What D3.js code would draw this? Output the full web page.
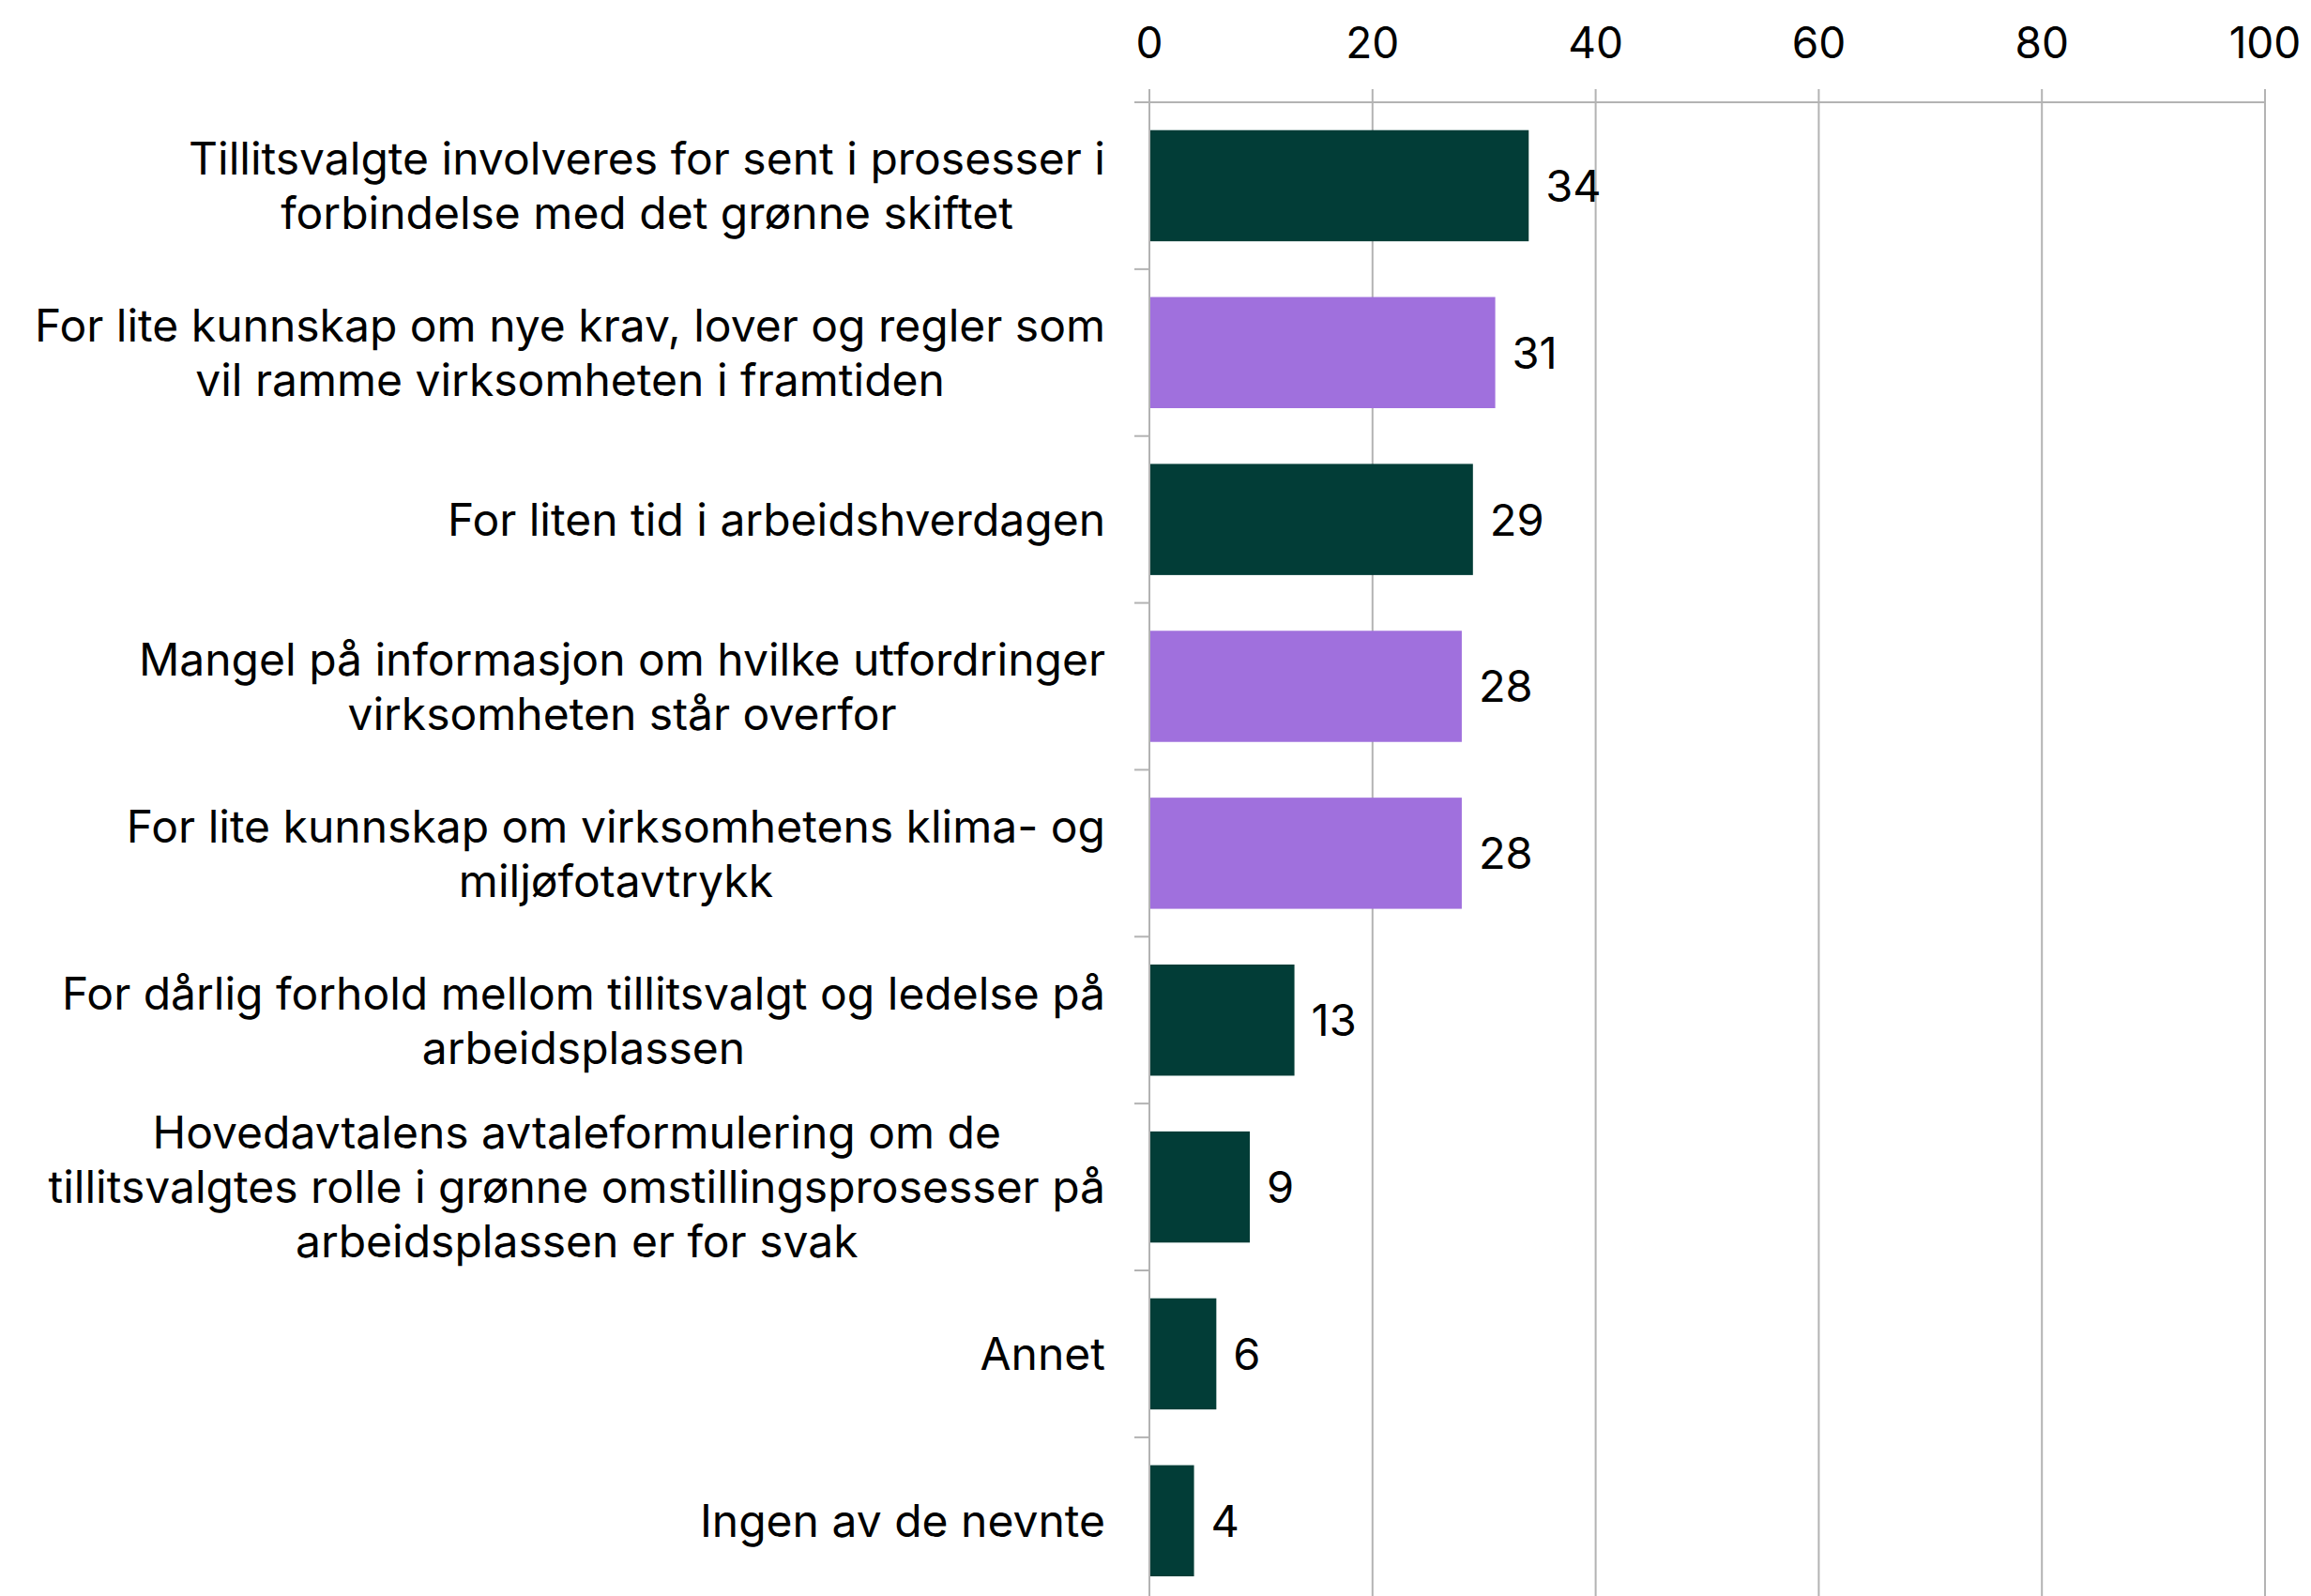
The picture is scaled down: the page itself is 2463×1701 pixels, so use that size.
<!DOCTYPE html>
<html lang="no">
<head>
<meta charset="UTF-8">
<title>Hindringer for tillitsvalgte</title>
<style>
  body { margin: 0; background: #fff; }
  svg { display: block; font-family: Inter, "Noto Sans", Arial, sans-serif; }
  .grid line { stroke: #b3b3b3; stroke-width: 2px; }
  .tick-label { font-size: 46px; fill: #000; }
  .cat-label { font-size: 48px; fill: #000; }
  .value { font-size: 47px; fill: #000; }
</style>
</head>
<body>
<div id="chart"></div>
<script src="https://cdn.jsdelivr.net/npm/d3@7"></script>
<script>
// categories, top to bottom ("\n" = line break as in the picture)
var categories = [
  "Tillitsvalgte involveres for sent i prosesser i\nforbindelse med det grønne skiftet",
  "For lite kunnskap om nye krav, lover og regler som\nvil ramme virksomheten i framtiden",
  "For liten tid i arbeidshverdagen",
  "Mangel på informasjon om hvilke utfordringer\nvirksomheten står overfor",
  "For lite kunnskap om virksomhetens klima- og\nmiljøfotavtrykk",
  "For dårlig forhold mellom tillitsvalgt og ledelse på\narbeidsplassen",
  "Hovedavtalens avtaleformulering om de\ntillitsvalgtes rolle i grønne omstillingsprosesser på\narbeidsplassen er for svak",
  "Annet",
  "Ingen av de nevnte"
];
var values = [34, 31, 29, 28, 28, 13, 9, 6, 4];
var highlighted = [false, true, false, true, true, false, false, false, false];
var xTicks = [0, 20, 40, 60, 80, 100];

var width = 2463, height = 1701;
var x0 = 1225, x1 = 2414, yTop = 109;
var step = 177.86;

var svg = d3.select("#chart").append("svg")
    .attr("width", width)
    .attr("height", height);

var x = d3.scaleLinear().domain([0, 100]).range([x0, x1]);
var y = d3.scaleBand()
    .domain(d3.range(categories.length))
    .range([yTop, yTop + step * categories.length])
    .paddingInner(0.334)
    .paddingOuter(0.167);

// vertical gridlines
svg.append("g").attr("class", "grid")
  .selectAll("line")
  .data(xTicks)
  .enter().append("line")
    .attr("x1", function(d) { return x(d); })
    .attr("x2", function(d) { return x(d); })
    .attr("y1", yTop - 14)
    .attr("y2", height);

// top axis line + category ticks
var g = svg.append("g").attr("class", "grid");
g.append("line")
    .attr("x1", x0 - 16).attr("x2", x1)
    .attr("y1", yTop).attr("y2", yTop);
g.selectAll(".ct")
  .data(d3.range(1, categories.length))
  .enter().append("line")
    .attr("x1", x0 - 16).attr("x2", x0)
    .attr("y1", function(i) { return y(i) - y.step() * y.paddingInner() / 2; })
    .attr("y2", function(i) { return y(i) - y.step() * y.paddingInner() / 2; });

// tick labels
svg.append("g").selectAll("text")
  .data(xTicks)
  .enter().append("text")
    .attr("class", "tick-label")
    .attr("x", function(d) { return x(d); })
    .attr("y", 62)
    .attr("text-anchor", "middle")
    .text(function(d) { return d; });

// bars
svg.append("g").selectAll("rect")
  .data(values)
  .enter().append("rect")
    .attr("x", x(0) + 1)
    .attr("y", function(d, i) { return y(i); })
    .attr("width", function(d) { return x(d) - x(0) - 1; })
    .attr("height", y.bandwidth())
    .attr("fill", function(d, i) { return highlighted[i] ? "#a070dd" : "#023d37"; });

// value labels
svg.append("g").selectAll("text")
  .data(values)
  .enter().append("text")
    .attr("class", "value")
    .attr("x", function(d) { return x(d) + 18; })
    .attr("y", function(d, i) { return y(i) + y.bandwidth() / 2; })
    .attr("dy", "0.36em")
    .text(function(d) { return d; });

// category labels: centered block, right-aligned to labelRight
var labelRight = 1178, lineH = 58;
var labels = svg.append("g").selectAll("text")
  .data(categories)
  .enter().append("text")
    .attr("class", "cat-label")
    .attr("text-anchor", "middle");

labels.each(function(d, i) {
  var lines = d.split("\n");
  var t = d3.select(this);
  var cy = y(i) + y.bandwidth() / 2;
  var spans = lines.map(function(s, k) {
    return t.append("tspan")
      .attr("y", cy + (k - (lines.length - 1) / 2) * lineH)
      .attr("dy", "0.36em")
      .text(s);
  });
  var maxW = d3.max(spans, function(s) { return s.node().getComputedTextLength(); });
  spans.forEach(function(s) { s.attr("x", labelRight - maxW / 2); });
});
</script>
</body>
</html>
